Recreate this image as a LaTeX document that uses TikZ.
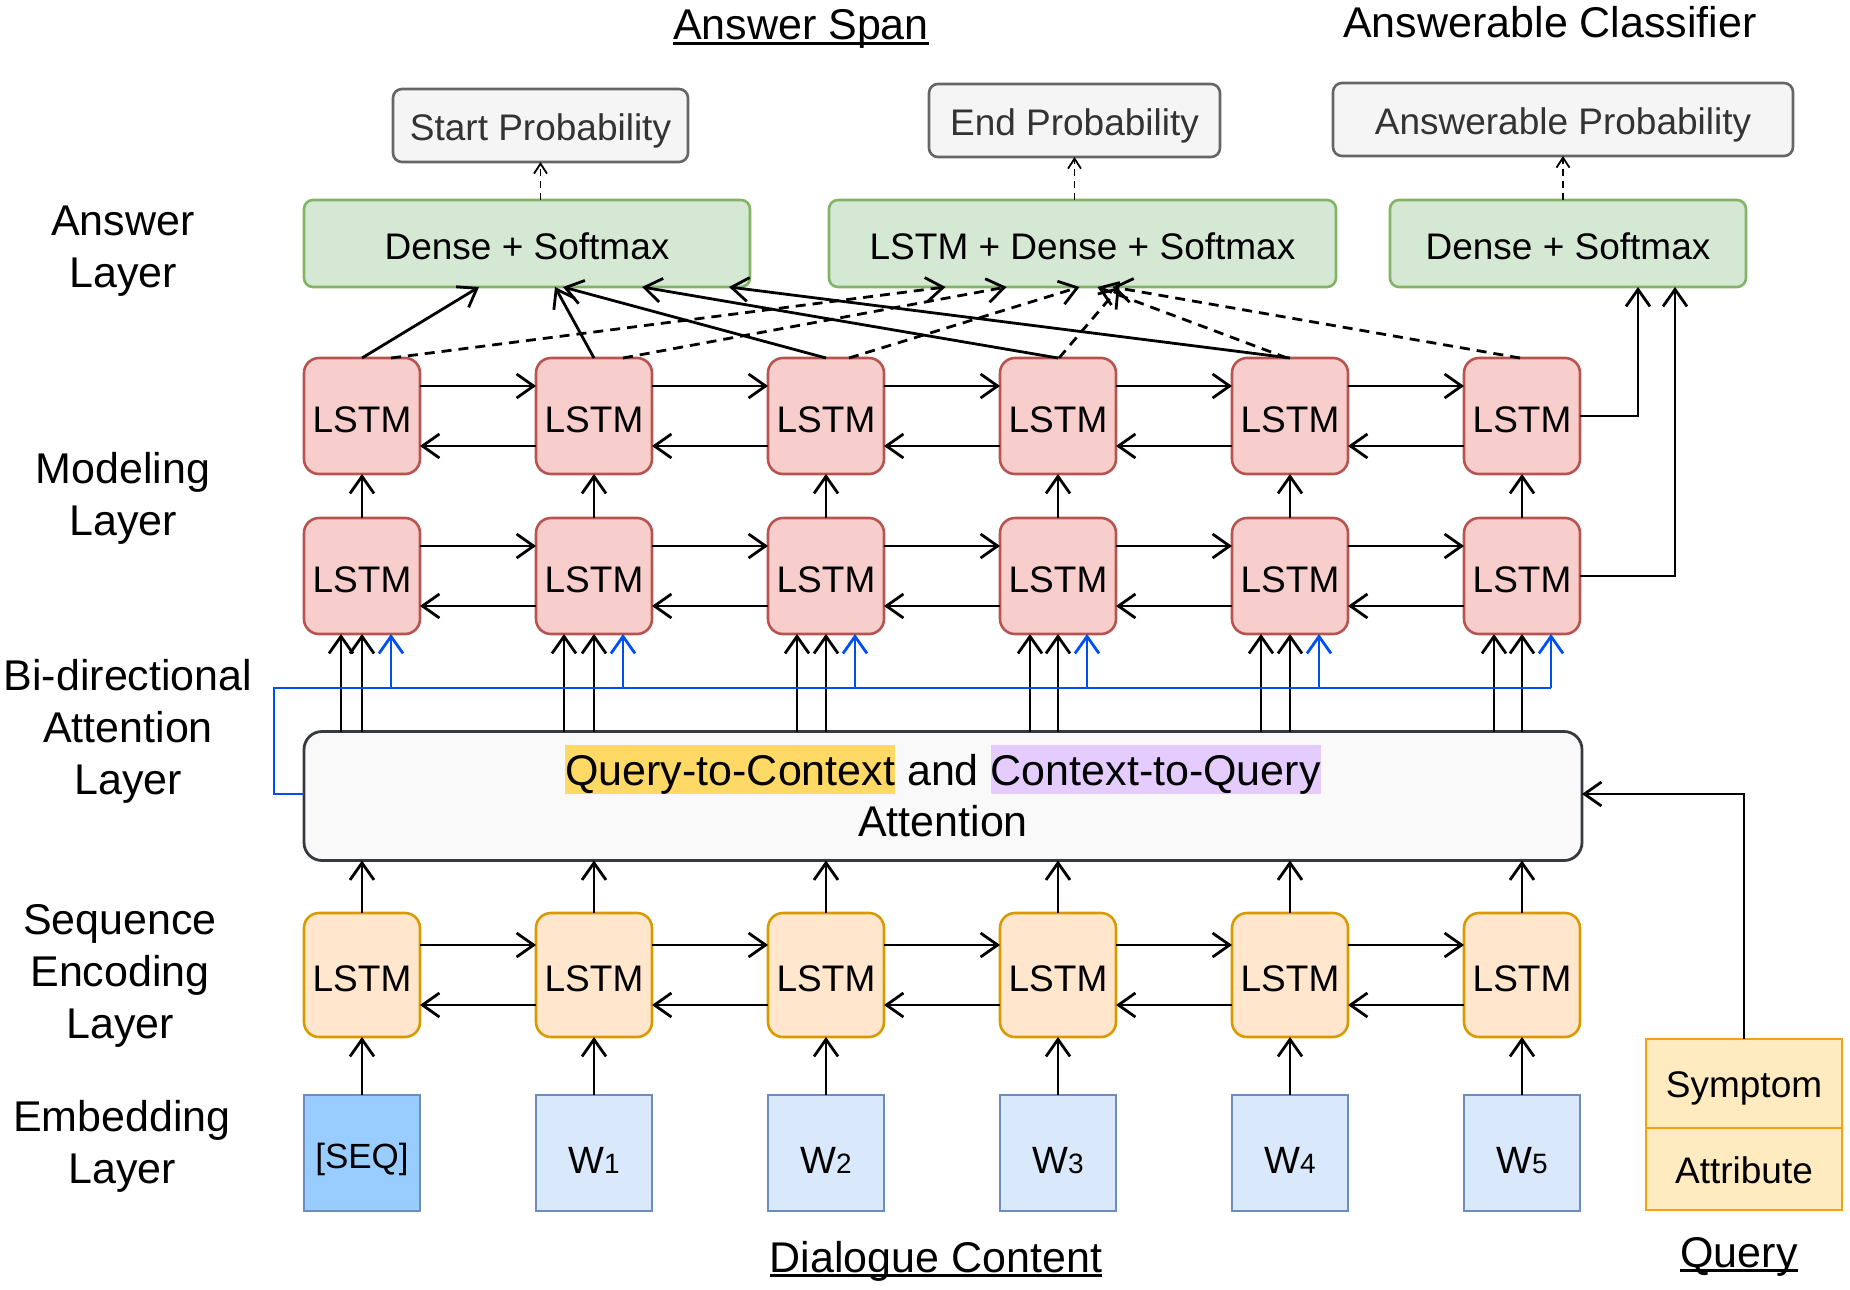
\documentclass[tikz,border=0pt]{standalone}
\usepackage{fontspec}
\setmainfont{Liberation Sans}
\usetikzlibrary{arrows.meta}
\definecolor{gfill}{HTML}{D5E8D4}
\definecolor{gline}{HTML}{82B366}
\definecolor{rfill}{HTML}{F8CECC}
\definecolor{rline}{HTML}{B85450}
\definecolor{ofill}{HTML}{FFE6CC}
\definecolor{oline}{HTML}{D79B00}
\definecolor{bfill}{HTML}{DAE8FC}
\definecolor{bline}{HTML}{6C8EBF}
\definecolor{sfill}{HTML}{99CCFF}
\definecolor{qfill}{HTML}{FFEBBF}
\definecolor{qline}{HTML}{F2A20C}
\definecolor{pfill}{HTML}{F5F5F5}
\definecolor{pline}{HTML}{666666}
\definecolor{ptext}{HTML}{333333}
\definecolor{afill}{HTML}{F9F9F9}
\definecolor{aline}{HTML}{36393D}
\definecolor{hlq}{HTML}{FFD966}
\definecolor{hlc}{HTML}{E5CCFF}
\definecolor{blu}{HTML}{0050EF}
\newcommand{\ulx}[1]{\setbox0\hbox{#1}\rlap{\rule[-5pt]{\wd0}{2.8pt}}\box0}
\newcommand{\hlstrut}{\rule[-9pt]{0pt}{49pt}}
\begin{document}
\begin{tikzpicture}[x=1pt,y=-1pt,
  box/.style={draw, line width=2.6pt, inner sep=0pt, outer sep=0pt, font=\fontsize{37}{44}\selectfont},
  lstmr/.style={box, rounded corners=15pt, fill=rfill, draw=rline, minimum width=116pt, minimum height=116pt, text height=32pt, text depth=0pt},
  lstmo/.style={box, rounded corners=15pt, fill=ofill, draw=oline, minimum width=116pt, minimum height=124pt, text height=32pt, text depth=0pt},
  emb/.style={box, fill=bfill, draw=bline, minimum width=116pt, minimum height=116pt},
  ans/.style={box, rounded corners=9pt, fill=gfill, draw=gline, minimum height=87pt, text height=32pt, text depth=0pt},
  prob/.style={box, rounded corners=9pt, fill=pfill, draw=pline, text=ptext, minimum height=73pt, text height=30pt, text depth=0pt},
  qbox/.style={box, fill=qfill, draw=qline, minimum width=196pt, text height=28pt, text depth=0pt},
  lbl/.style={font=\fontsize{43}{52}\selectfont, align=center, inner sep=0pt},
  ttl/.style={font=\fontsize{43}{52}\selectfont, inner sep=0pt},
  arr/.style={-{Straight Barb[length=17pt,width=24pt]}, line width=2.8pt},
  darr/.style={arr, dash pattern=on 10pt off 7pt},
  parr/.style={-{Straight Barb[length=10pt,width=13pt]}, line width=1.8pt, dash pattern=on 7pt off 5pt},
  bluel/.style={draw=blu, line width=2.8pt},
  barr/.style={arr, draw=blu},
]
\useasboundingbox (0,0) rectangle (1850,1290);

% layer labels
\node[lbl] (lans) at (123,251) {Answer\\Layer};
\node[lbl] (lmod) at (123,498) {Modeling\\Layer};
\node[lbl] (lbid) at (128,731) {Bi-directional\\Attention\\Layer};
\node[lbl] (lseq) at (120,976) {Sequence\\Encoding\\Layer};
\node[lbl] (lemb) at (122,1146) {Embedding\\Layer};

% titles
\node[ttl, anchor=base] (tspan) at (801,40) {\ulx{Answer Span}};
\node[ttl, anchor=base] (tcls) at (1550,38) {Answerable Classifier};
\node[ttl, anchor=base] (tdia) at (936,1272) {\ulx{Dialogue Content}};
\node[ttl, anchor=base] (tqry) at (1739,1267) {\ulx{Query}};

% probability boxes
\node[prob, minimum width=295pt] (p1) at (540.5,125.5) {Start Probability};
\node[prob, minimum width=291pt] (p2) at (1074.5,120.5) {End Probability};
\node[prob, minimum width=460pt] (p3) at (1563,119.5) {Answerable Probability};

% answer layer
\node[ans, minimum width=446pt] (a1) at (527,243.5) {Dense + Softmax};
\node[ans, minimum width=507pt] (a2) at (1082.5,243.5) {LSTM + Dense + Softmax};
\node[ans, minimum width=356pt] (a3) at (1568,243.5) {Dense + Softmax};

% LSTM grid
\foreach \i/\x in {1/362,2/594,3/826,4/1058,5/1290,6/1522}{
  \node[lstmr] (mt\i) at (\x,416) {LSTM};
  \node[lstmr] (mb\i) at (\x,576) {LSTM};
  \node[lstmo] (se\i) at (\x,975) {LSTM};
}

% embeddings
\node[emb, fill=sfill, font=\fontsize{35}{42}\selectfont, text height=30pt, text depth=0pt] (e1) at (362,1153) {[SEQ]};
\foreach \i/\x/\n in {2/594/1,3/826/2,4/1058/3,5/1290/4,6/1522/5}{
  \node[emb, text height=40pt, text depth=0pt] (e\i) at (\x,1153) {\fontsize{38}{44}\selectfont W{\fontsize{28}{30}\selectfont\n}};
}

% attention box
\node[box, rounded corners=18pt, fill=afill, draw=aline, line width=2.8pt,
      minimum width=1278pt, minimum height=129pt, align=center,
      font=\fontsize{43}{51}\selectfont] (att) at (943,796)
  {\fboxsep=0pt\colorbox{hlq}{\hlstrut Query-to-Context} and \colorbox{hlc}{\hlstrut Context-to-Query}\\\rule[-11pt]{0pt}{11pt}Attention};
\coordinate (attw) at (att.west);

% query
\node[qbox, minimum height=89pt] (sym) at (1744,1083.5) {Symptom};
\node[qbox, minimum height=82pt] (attr) at (1744,1169) {Attribute};

% horizontal LSTM arrows
\foreach \r in {mt,mb,se}{
  \foreach \i [evaluate=\i as \j using int(\i+1)] in {1,...,5}{
    \draw[arr] ([yshift=30pt]\r\i.east) -- ([yshift=30pt]\r\j.west);
    \draw[arr] ([yshift=-30pt]\r\j.west) -- ([yshift=-30pt]\r\i.east);
  }
}

% vertical arrows
\foreach \i in {1,...,6}{
  \draw[arr] (mb\i.north) -- (mt\i.south);
  \draw[arr] (se\i.north) -- (se\i.north |- att.south);
  \draw[arr] (e\i.north) -- (se\i.south);
}

% attention to modeling
\coordinate (bl) at (274,688);
\foreach \i/\o in {1/-21,2/-30,3/-29,4/-28,5/-29,6/-28}{
  \coordinate (ta\i) at ([xshift=\o pt]mb\i.south);
  \coordinate (bu\i) at ([xshift=29pt]mb\i.south);
  \draw[arr] (ta\i |- att.north) -- (ta\i);
  \draw[arr] (mb\i.south |- att.north) -- (mb\i.south);
}
\draw[bluel] ([yshift=2pt]att.west) -| (bl) -- (bu6 |- bl);
\foreach \i in {1,...,6}{
  \draw[barr] (bu\i |- bl) -- (bu\i);
}

% query to attention
\draw[arr] (sym.north) |- ([yshift=2pt]att.east);

% modeling to answer layer
\foreach \i/\e in {1/-48,2/28,3/36,4/115,5/202}{
  \draw[arr] (mt\i.north) -- ([xshift=\e pt]a1.south);
}
\foreach \i/\s/\e in {1/29/-137,2/29/-76,3/23/-3,4/1/37,5/-3/15,6/-2/30}{
  \draw[darr] ([xshift=\s pt]mt\i.north) -- ([xshift=\e pt]a2.south);
}
\coordinate (qa) at ([xshift=70pt]a3.south);
\coordinate (qb) at ([xshift=107pt]a3.south);
\draw[arr] (mt6.east) -| (qa);
\draw[arr] (mb6.east) -| (qb);

% answer to probability
\draw[parr] (p1.south |- a1.north) -- (p1.south);
\draw[parr] (p2.south |- a2.north) -- (p2.south);
\draw[parr] (p3.south |- a3.north) -- (p3.south);
\end{tikzpicture}
\end{document}
